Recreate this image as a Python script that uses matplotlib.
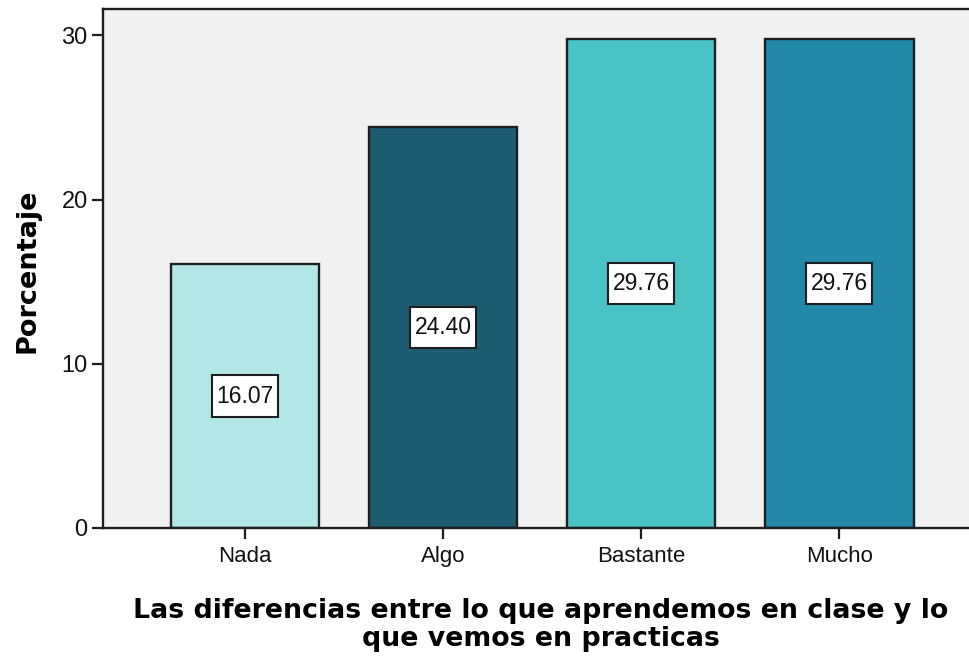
import matplotlib
matplotlib.use("Agg")
import matplotlib.pyplot as plt
from matplotlib.path import Path
import numpy as np

categories = ["Nada", "Algo", "Bastante", "Mucho"]
percentages = [16.07, 24.40, 29.76, 29.76]
bar_colors = ["#B3E6E6", "#1D5B70", "#4AC3C6", "#2389A8"]
y_ticks = [0, 10, 20, 30]
x_label = "Las diferencias entre lo que aprendemos en clase y lo\nque vemos en practicas"
y_label = "Porcentaje"


def label_box(x0, y0, width, height, mutation_size):
    """Rectangle with more vertical than horizontal padding."""
    px = 0.20 * mutation_size
    py = 0.40 * mutation_size
    x0, y0 = x0 - px, y0 - py
    x1, y1 = x0 + width + 2 * px, y0 + height + 2 * py
    return Path([(x0, y0), (x1, y0), (x1, y1), (x0, y1), (x0, y0)], closed=True)


fig = plt.figure(figsize=(9.70, 6.57), dpi=100)
ax = fig.add_axes([103 / 970, 1 - 528 / 657, 1 - 103 / 970, (528 - 9) / 657])
ax.set_facecolor("#F0F0F0")

x = np.arange(len(categories))
ax.bar(x, percentages, width=0.75, color=bar_colors, edgecolor="#1E1E1E",
       linewidth=1.7, zorder=2)

for xi, v in zip(x, percentages):
    ax.text(xi, v / 2, f"{v:.2f}", ha="center", va="center",
            fontsize=16.5, family="Liberation Sans", color="#111111", zorder=3,
            bbox=dict(boxstyle=label_box, facecolor="white",
                      edgecolor="#1E1E1E", linewidth=1.5))

ax.set_xlim(-0.717, 3.66)
ax.set_ylim(0, 31.6)
ax.set_xticks(x)
ax.set_xticklabels(categories, family="Liberation Sans", fontsize=16)
ax.set_yticks(y_ticks)
ax.set_yticklabels([str(t) for t in y_ticks], family="Liberation Sans", fontsize=17)
ax.tick_params(axis="both", length=8, width=1.6, color="#1E1E1E", labelcolor="#111111")
ax.tick_params(axis="x", pad=5)
ax.tick_params(axis="y", pad=3)

for side in ["left", "bottom", "top"]:
    ax.spines[side].set_linewidth(1.7)
    ax.spines[side].set_color("#1E1E1E")
ax.spines["right"].set_visible(False)

fig.text(28 / 970, 1 - 271 / 657, y_label, rotation=90, ha="center", va="center",
         fontsize=19.5, fontweight="bold", family="DejaVu Sans")
fig.text(541 / 970, 1 - 625 / 657, x_label, ha="center", va="center",
         fontsize=19.3, fontweight="bold", family="DejaVu Sans", linespacing=1.1)

fig.savefig("out.png", dpi=100)
